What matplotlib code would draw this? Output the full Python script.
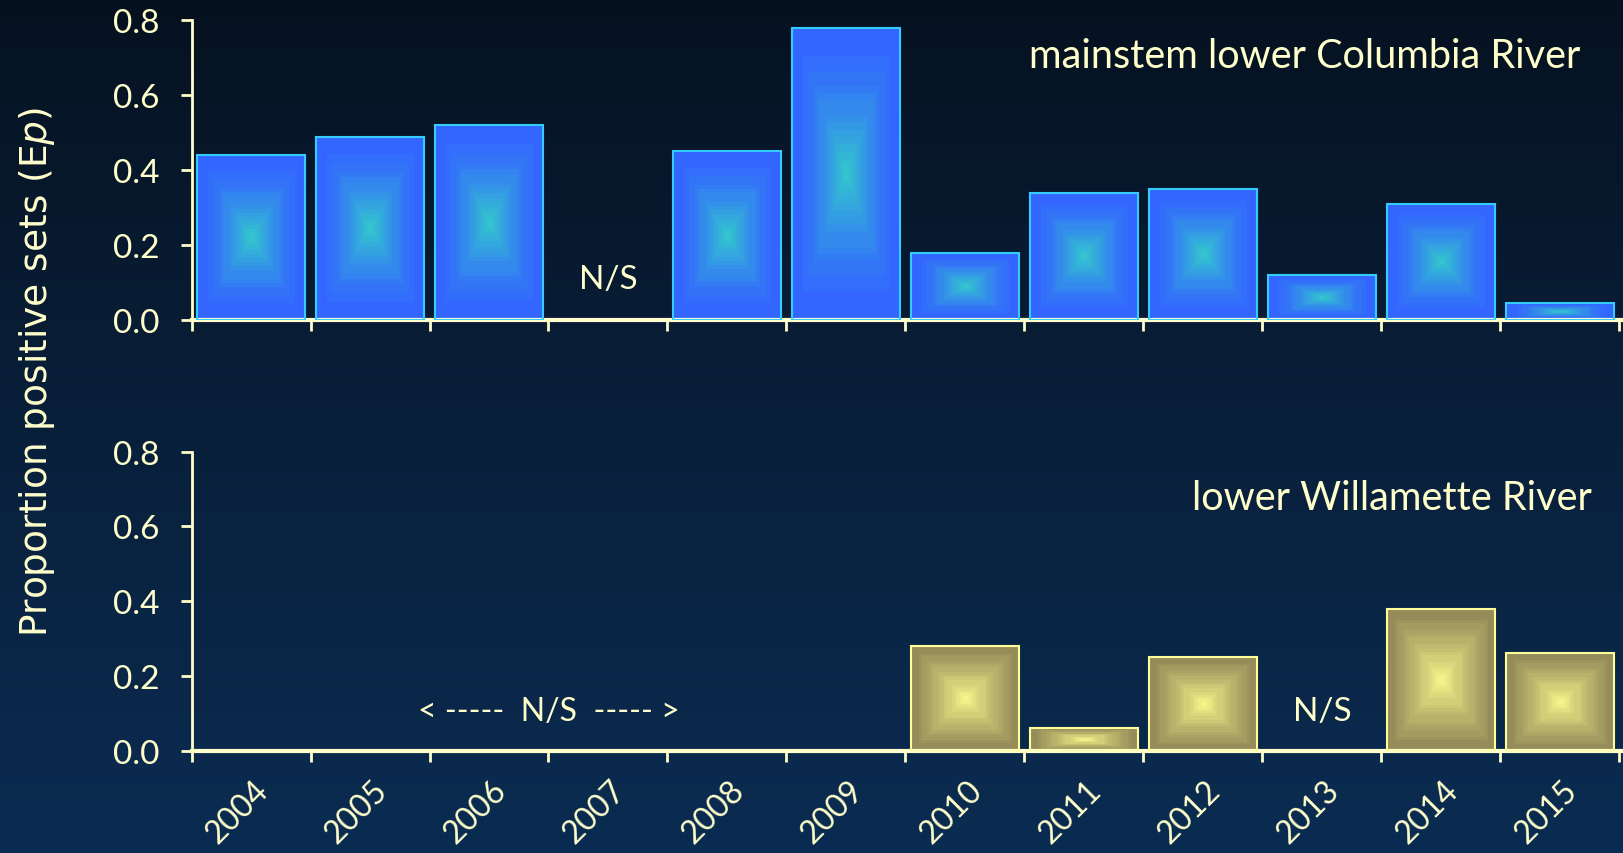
import numpy as np
import matplotlib.pyplot as plt
from matplotlib.colors import to_rgb

years = ['2004', '2005', '2006', '2007', '2008', '2009',
         '2010', '2011', '2012', '2013', '2014', '2015']
columbia = [0.44, 0.49, 0.52, np.nan, 0.45, 0.78,
            0.18, 0.34, 0.35, 0.12, 0.31, 0.045]
willamette = [np.nan, np.nan, np.nan, np.nan, np.nan, np.nan,
              0.28, 0.06, 0.25, np.nan, 0.38, 0.26]
yticks = [0.0, 0.2, 0.4, 0.6, 0.8]

cream = '#FFFFCC'
plt.rcParams['font.family'] = ['Lato', 'DejaVu Sans']
plt.rcParams['mathtext.fontset'] = 'dejavusans'

fig = plt.figure(figsize=(16.23, 8.54), dpi=100)

# background gradient
bg = fig.add_axes([0, 0, 1, 1], zorder=-10)
top_c = np.array(to_rgb('#06111F'))
bot_c = np.array(to_rgb('#0B2C52'))
g = np.linspace(0, 1, 256)[:, None, None]
bg.imshow(top_c + (bot_c - top_c) * g ** 0.9, aspect='auto', extent=[0, 1, 0, 1])
bg.axis('off')


def grad_bar(ax, x, h, width, edge, center, outline, p):
    if np.isnan(h):
        return
    bar = ax.bar(x, h, width=width, color='none', edgecolor=outline,
                 linewidth=1.5, zorder=3)[0]
    n = 40
    u = np.linspace(-1, 1, n)
    U, V = np.meshgrid(u, u)
    t = 1 - np.maximum(np.abs(U), np.abs(V))
    s = np.clip((t - 0.08) / 0.92, 0, 1) ** p
    s = np.round(s * 14) / 14
    e = np.array(to_rgb(edge))
    c = np.array(to_rgb(center))
    img = e + (c - e) * s[..., None]
    im = ax.imshow(img, extent=[x - width / 2, x + width / 2, 0, h],
                   aspect='auto', interpolation='nearest', zorder=2)
    im.set_clip_path(bar)


def style(ax):
    ax.set_facecolor('none')
    for sp in ['top', 'right']:
        ax.spines[sp].set_visible(False)
    ax.spines['left'].set_color(cream)
    ax.spines['left'].set_linewidth(2)
    ax.spines['bottom'].set_color(cream)
    ax.spines['bottom'].set_linewidth(3)
    ax.set_xlim(-0.5, 11.53)
    ax.set_ylim(0, 0.8)
    ax.set_yticks(yticks)
    ax.set_yticklabels(['%.1f' % v for v in yticks])
    ax.set_xticks(np.arange(-0.5, 12, 1))
    ax.set_xticklabels([])
    ax.tick_params(axis='both', colors=cream, labelsize=24, length=8, width=2)
    ax.tick_params(axis='y', pad=15)
    ax.set_autoscale_on(False)


x = np.arange(len(years))
w = 0.91

ax1 = fig.add_axes([0.118, 0.624, 0.882, 0.351])
style(ax1)
for xi, v in zip(x, columbia):
    grad_bar(ax1, xi, v, w, '#3366FF', '#33CCCC', '#33CCFF', 1.5)
ax1.text(3, 0.11, 'N/S', color=cream, fontsize=24, ha='center', va='center')
ax1.text(0.970, 0.882, 'mainstem lower Columbia River', transform=ax1.transAxes,
         color=cream, fontsize=28.5, ha='right', va='center')

ax2 = fig.add_axes([0.118, 0.120, 0.882, 0.350])
style(ax2)
for xi, v in zip(x, willamette):
    grad_bar(ax2, xi, v, w, '#968C5A', '#F5F58A', '#FFFF99', 1.1)
ax2.text(2.5, 0.105, '< -----  N/S  ----- >', color=cream, fontsize=23,
         ha='center', va='center')
ax2.text(9, 0.105, 'N/S', color=cream, fontsize=24, ha='center', va='center')
ax2.text(0.978, 0.846, 'lower Willamette River', transform=ax2.transAxes,
         color=cream, fontsize=28.5, ha='right', va='center')
for xi, yr in zip(x, years):
    ax2.text(xi + 0.02, -0.065, yr, color=cream, fontsize=23, rotation=45,
             ha='right', va='top', rotation_mode='anchor')

fig.text(0.023, 0.564, 'Proportion positive sets (E$\\it{p}$)', color=cream,
         fontsize=27, rotation=90, ha='center', va='center', family='DejaVu Sans')

fig.savefig('out.png', dpi=100)
